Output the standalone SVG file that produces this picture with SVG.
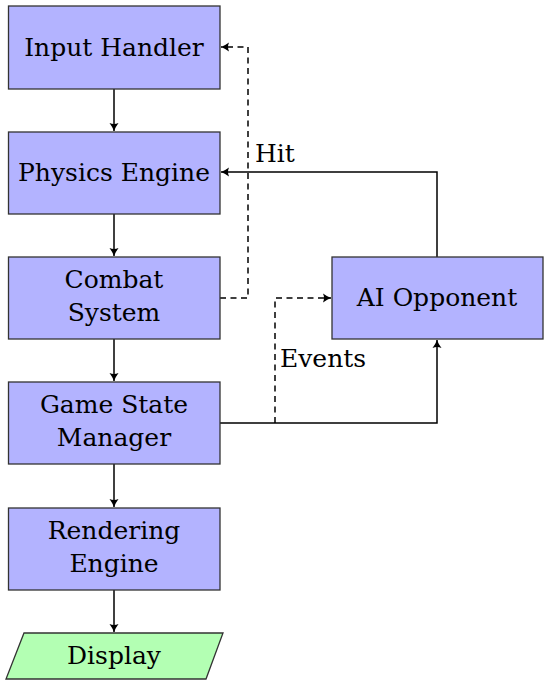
<svg xmlns="http://www.w3.org/2000/svg" width="550" height="685" viewBox="0 0 550 685">
<defs>
<marker id="ah" viewBox="-10 -6 12 12" refX="0" refY="0" markerWidth="12" markerHeight="12" markerUnits="userSpaceOnUse" orient="auto">
<path d="M-8,-4.5 Q-3.5,-1.2 0,0 Q-3.5,1.2 -8,4.5 Q-6,0 -8,-4.5 Z" fill="#000"/>
</marker>
<style>
.box{fill:#b3b3ff;stroke:#333;stroke-width:1.3}
.io{fill:#b3ffb3;stroke:#333;stroke-width:1.3}
.t{font-family:"DejaVu Serif","Liberation Serif",serif;font-size:25px;fill:#000;text-anchor:middle}
.lbl{font-family:"DejaVu Serif","Liberation Serif",serif;font-size:25px;fill:#000}
.e{fill:none;stroke:#000;stroke-width:1.5}
.d{stroke-dasharray:6,4.5}
</style>
</defs>
<rect width="550" height="685" fill="#fff"/>
<g id="connectors">
<path class="e" d="M114,89 V131" marker-end="url(#ah)"/>
<path class="e" d="M114,214 V256" marker-end="url(#ah)"/>
<path class="e" d="M114,339 V381" marker-end="url(#ah)"/>
<path class="e" d="M114,464 V507" marker-end="url(#ah)"/>
<path class="e" d="M114,590 V632" marker-end="url(#ah)"/>
<path class="e d" d="M220,298 H248 V47 H221" marker-end="url(#ah)"/>
<path class="e" d="M437,257 V172 H221" marker-end="url(#ah)"/>
<path class="e" d="M220,423 H437 V340" marker-end="url(#ah)"/>
<path class="e d" d="M275,423 V298 H331" marker-end="url(#ah)"/>
<text class="lbl" x="255" y="162">Hit</text>
<text class="lbl" x="280" y="367">Events</text>
</g>
<g id="input-handler">
<rect class="box" x="8.5" y="6" width="211.5" height="83"/>
<text class="t" x="114" y="56">Input Handler</text>
</g>
<g id="physics-engine">
<rect class="box" x="8.5" y="132" width="211.5" height="82"/>
<text class="t" x="114" y="181">Physics Engine</text>
</g>
<g id="combat-system">
<rect class="box" x="8.5" y="257" width="211.5" height="82"/>
<text class="t" x="114" y="288">Combat</text>
<text class="t" x="114" y="321">System</text>
</g>
<g id="game-state-manager">
<rect class="box" x="8.5" y="382" width="211.5" height="82"/>
<text class="t" x="114" y="413">Game State</text>
<text class="t" x="114" y="446">Manager</text>
</g>
<g id="rendering-engine">
<rect class="box" x="8.5" y="508" width="211.5" height="82"/>
<text class="t" x="114" y="539">Rendering</text>
<text class="t" x="114" y="572">Engine</text>
</g>
<g id="display">
<polygon class="io" points="24,633 223,633 206,679 6,679"/>
<text class="t" x="114" y="664">Display</text>
</g>
<g id="ai-opponent">
<rect class="box" x="332" y="257" width="211" height="82"/>
<text class="t" x="437" y="306">AI Opponent</text>
</g>
</svg>
